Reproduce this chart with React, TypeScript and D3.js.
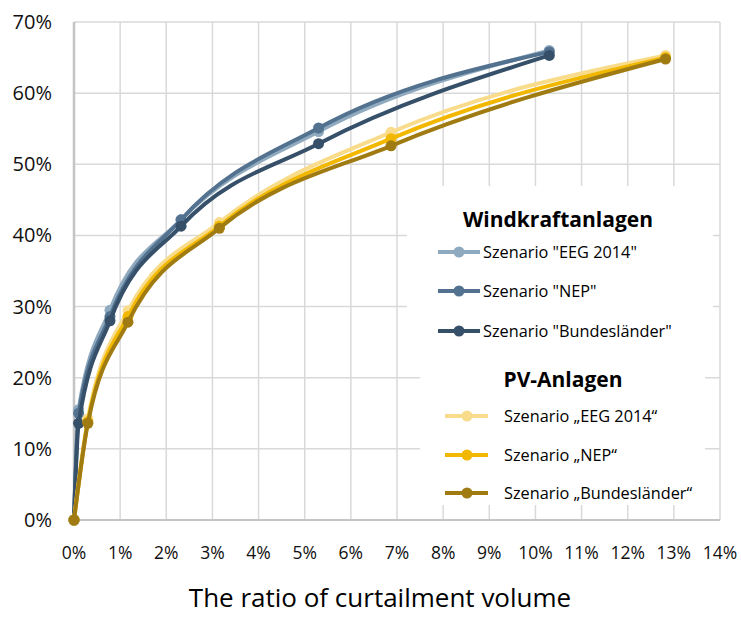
import React, { useEffect, useRef } from "react"
import * as d3 from "d3"

// x = curtailment ratio (%), y = share (%)
const windX = [0, 0.1, 0.78, 2.32, 5.3, 10.3]
const windEEG = [0, 15.5, 29.5, 42.2, 54.6, 66]
const windNEP = [0, 15, 28.6, 42.2, 55.1, 65.8]
const windBund = [0, 13.6, 28, 41.3, 52.9, 65.3]

const pvX = [0, 0.3, 1.17, 3.15, 6.87, 12.82]
const pvEEG = [0, 14.2, 29.4, 41.8, 54.5, 65.3]
const pvNEP = [0, 13.8, 28.6, 41.3, 53.6, 65]
const pvBund = [0, 13.6, 27.8, 41, 52.6, 64.8]

const xTicks = d3.range(0, 15)
const yTicks = d3.range(0, 80, 10)

const windNames = ['Szenario "EEG 2014"', 'Szenario "NEP"', 'Szenario "Bundesländer"']
const pvNames = ["Szenario „EEG 2014“", "Szenario „NEP“", "Szenario „Bundesländer“"]
const windColors = ["#8fa9bf", "#52728f", "#36506a"]
const pvColors = ["#f8dc8b", "#f2b800", "#9f7b12"]

function App() {
    const svgRef = useRef(null)

    useEffect(() => {
        const width = 741
        const height = 617
        const font = "'Open Sans', 'Noto Sans', sans-serif"

        const svg = d3.select(svgRef.current)
        svg.selectAll("*").remove()
        svg.attr("width", width).attr("height", height)

        const x = d3.scaleLinear().domain([0, 14]).range([74, 720])
        const y = d3.scaleLinear().domain([0, 70]).range([520, 22])

        const grid = svg.append("g")
        grid.selectAll("line.v")
            .data(xTicks)
            .join("line")
            .attr("x1", (d) => x(d))
            .attr("x2", (d) => x(d))
            .attr("y1", y(0))
            .attr("y2", y(70))
            .attr("stroke", "#d9d9d9")
            .attr("stroke-width", 1.5)
        grid.selectAll("line.h")
            .data(yTicks)
            .join("line")
            .attr("x1", x(0))
            .attr("x2", x(14))
            .attr("y1", (d) => y(d))
            .attr("y2", (d) => y(d))
            .attr("stroke", "#d9d9d9")
            .attr("stroke-width", 1.5)

        // axis lines
        svg.append("line")
            .attr("x1", x(0)).attr("x2", x(0))
            .attr("y1", y(0)).attr("y2", y(70))
            .attr("stroke", "#c4c4c4").attr("stroke-width", 2.5)
        svg.append("line")
            .attr("x1", x(0)).attr("x2", x(14))
            .attr("y1", y(0)).attr("y2", y(0))
            .attr("stroke", "#c4c4c4").attr("stroke-width", 2)

        svg.append("g")
            .selectAll("text")
            .data(yTicks)
            .join("text")
            .attr("x", 52)
            .attr("y", (d) => y(d) + 7)
            .attr("text-anchor", "end")
            .style("font-family", font)
            .style("font-size", "20px")
            .attr("fill", "#111")
            .text((d) => d + "%")

        svg.append("g")
            .selectAll("text")
            .data(xTicks)
            .join("text")
            .attr("x", (d) => x(d))
            .attr("y", 559)
            .attr("text-anchor", "middle")
            .style("font-family", font)
            .style("font-size", "17.5px")
            .attr("fill", "#111")
            .text((d) => d + "%")

        svg.append("text")
            .attr("x", 380)
            .attr("y", 607)
            .attr("text-anchor", "middle")
            .style("font-family", font)
            .style("font-size", "26px")
            .attr("fill", "#000")
            .text("The ratio of curtailment volume")

        const line = d3.line()
            .x((d) => x(d[0]))
            .y((d) => y(d[1]))
            .curve(d3.curveMonotoneX)

        const series = [
            { xs: windX, ys: windEEG, color: windColors[0] },
            { xs: windX, ys: windNEP, color: windColors[1] },
            { xs: windX, ys: windBund, color: windColors[2] },
            { xs: pvX, ys: pvEEG, color: pvColors[0] },
            { xs: pvX, ys: pvNEP, color: pvColors[1] },
            { xs: pvX, ys: pvBund, color: pvColors[2] },
        ]

        series.forEach((s) => {
            const pts = s.xs.map((v, i) => [v, s.ys[i]])
            const g = svg.append("g")
            g.append("path")
                .attr("d", line(pts))
                .attr("fill", "none")
                .attr("stroke", s.color)
                .attr("stroke-width", 4)
            g.selectAll("circle")
                .data(pts)
                .join("circle")
                .attr("cx", (d) => x(d[0]))
                .attr("cy", (d) => y(d[1]))
                .attr("r", 5.5)
                .attr("fill", s.color)
        })

        // legend
        const legend = svg.append("g")
        legend.append("rect")
            .attr("x", 407).attr("y", 186)
            .attr("width", 306).attr("height", 166)
            .attr("fill", "#fff")
        legend.append("rect")
            .attr("x", 420).attr("y", 352)
            .attr("width", 285).attr("height", 153)
            .attr("fill", "#fff")

        legend.append("text")
            .attr("x", 558).attr("y", 227)
            .attr("text-anchor", "middle")
            .style("font-family", font)
            .style("font-size", "21px")
            .style("font-weight", "bold")
            .attr("fill", "#000")
            .text("Windkraftanlagen")
        legend.append("text")
            .attr("x", 563).attr("y", 387)
            .attr("text-anchor", "middle")
            .style("font-family", font)
            .style("font-size", "21px")
            .style("font-weight", "bold")
            .attr("fill", "#000")
            .text("PV-Anlagen")

        const windRows = [252, 291, 331]
        windNames.forEach((name, i) => {
            legend.append("line")
                .attr("x1", 438).attr("x2", 480)
                .attr("y1", windRows[i]).attr("y2", windRows[i])
                .attr("stroke", windColors[i]).attr("stroke-width", 4)
            legend.append("circle")
                .attr("cx", 459).attr("cy", windRows[i]).attr("r", 5.5)
                .attr("fill", windColors[i])
            legend.append("text")
                .attr("x", 483).attr("y", windRows[i] + 6)
                .style("font-family", font)
                .style("font-size", "16.3px")
                .attr("fill", "#000")
                .text(name)
        })

        const pvRows = [416, 455, 493]
        pvNames.forEach((name, i) => {
            legend.append("line")
                .attr("x1", 445).attr("x2", 488)
                .attr("y1", pvRows[i]).attr("y2", pvRows[i])
                .attr("stroke", pvColors[i]).attr("stroke-width", 4)
            legend.append("circle")
                .attr("cx", 467).attr("cy", pvRows[i]).attr("r", 5.5)
                .attr("fill", pvColors[i])
            legend.append("text")
                .attr("x", 504).attr("y", pvRows[i] + 6)
                .style("font-family", font)
                .style("font-size", "16.3px")
                .attr("fill", "#000")
                .text(name)
        })
    }, [])

    return (
        <svg
            ref={svgRef}
            style={{ position: "absolute", left: 0, top: 0, background: "#fff" }}
        />
    )
}

export default App
